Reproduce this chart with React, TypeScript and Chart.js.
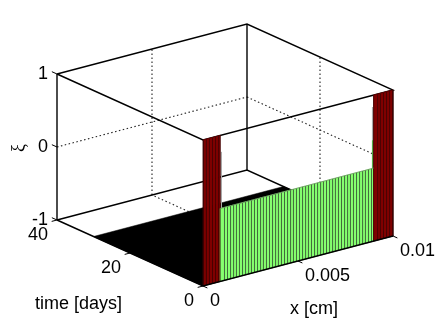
import React, { useEffect, useRef } from "react";
import { Chart, registerables } from "chart.js";

Chart.register(...registerables);

// Values
const xMesh = [
  0, 0.00003, 0.00018, 0.00034, 0.0005, 0.00066, 0.00082, 0.00091, 0.00113, 0.00129, 0.00145,
  0.00161, 0.00176, 0.00192, 0.00208, 0.00224, 0.0024, 0.00255, 0.00271, 0.00287, 0.00303,
  0.00318, 0.00334, 0.0035, 0.00366, 0.00382, 0.00397, 0.00413, 0.00429, 0.00445, 0.00461,
  0.00476, 0.00492, 0.00508, 0.00524, 0.0054, 0.00555, 0.00571, 0.00587, 0.00603, 0.00619,
  0.00634, 0.0065, 0.00666, 0.00682, 0.00697, 0.00713, 0.00729, 0.00745, 0.00761, 0.00776,
  0.00792, 0.00808, 0.00824, 0.0084, 0.00855, 0.00871, 0.00887, 0.00898, 0.00919, 0.00934,
  0.0095, 0.00966, 0.00982, 0.01,
];
const xiAtStart = [
  1, 1, 1, 1, 1, 1, 1,
  0, 0, 0, 0, 0, 0, 0, 0, 0, 0, 0, 0, 0, 0, 0, 0, 0, 0, 0, 0,
  0, 0, 0, 0, 0, 0, 0, 0, 0, 0, 0, 0, 0, 0, 0, 0, 0, 0, 0, 0,
  0, 0, 0, 0, 0, 0, 0, 0, 0, 0, 0,
  1, 1, 1, 1, 1, 1,
];
const floorX = [0, 0.01];
const floorT = [0, 30];
const floorXi = -1;
const leftStepX = 0.00097;
const rightStepX = 0.00892;
const leftStepGrey = [0.77, 0];
const rightStepGrey = [0.84, 0.38];
const rightStepGreen = [0.38, 0];

const xTicks = [0, 0.005, 0.01];
const xTickLabels = ["0", "0.005", "0.01"];
const tTicks = [0, 20, 40];
const tTickLabels = ["0", "20", "40"];
const xiTicks = [-1, 0, 1];
const xiTickLabels = ["-1", "0", "1"];
const xLabel = "x [cm]";
const tLabel = "time [days]";
const xiLabel = "ξ";

const RED = "#7f0000";
const GREEN = "#86ff70";

// 3D view of the box
const project = (x: number, t: number, xi: number) => ({
  x: 203 + (x / 0.01) * 190 - (t / 40) * 146,
  y: 286 - (x / 0.01) * 50 - (t / 40) * 66 - ((xi + 1) / 2) * 146,
});

type P = [number, number, number];
const poly = (pts: P[]) => pts.map((p) => project(p[0], p[1], p[2]));

const line = (pts: P[], color = "#000", width = 1.4, dash: number[] = []) => ({
  data: poly(pts),
  borderColor: color,
  borderWidth: width,
  borderDash: dash,
  showLine: true,
  pointRadius: 0,
  fill: false,
  tension: 0,
});

const shape = (pts: P[], fillColor: string) => ({
  data: poly([...pts, pts[0]]),
  borderColor: fillColor,
  borderWidth: 0.5,
  backgroundColor: fillColor,
  showLine: true,
  pointRadius: 0,
  fill: "shape",
  tension: 0,
});

const buildDatasets = () => {
  const back: any[] = [];
  const dot = [1.5, 2.5];
  const xMax = xTicks[2];
  const tMax = tTicks[2];
  const lo = xiTicks[0];
  const hi = xiTicks[2];

  // dotted grid on the floor and back walls
  back.push(line([[xTicks[1], tMax, lo], [xTicks[1], tMax, hi]], "#222", 1.1, dot));
  back.push(line([[xTicks[1], tTicks[0], lo], [xTicks[1], tMax, lo]], "#222", 1.1, dot));
  back.push(line([[xMax, tTicks[1], lo], [xMax, tTicks[1], hi]], "#222", 1.1, dot));
  back.push(line([[0, tTicks[1], lo], [xMax, tTicks[1], lo]], "#222", 1.1, dot));
  back.push(line([[0, tMax, xiTicks[1]], [xMax, tMax, xiTicks[1]]], "#222", 1.1, dot));
  back.push(line([[xMax, tMax, xiTicks[1]], [xMax, tTicks[0], xiTicks[1]]], "#222", 1.1, dot));

  // back box edges
  back.push(line([[0, tMax, hi], [xMax, tMax, hi], [xMax, tTicks[0], hi], [0, tTicks[0], hi], [0, tMax, hi]]));
  back.push(line([[0, tMax, lo], [xMax, tMax, lo], [xMax, tTicks[0], lo]]));
  back.push(line([[0, tMax, lo], [0, tMax, hi]]));
  back.push(line([[xMax, tMax, lo], [xMax, tMax, hi]]));

  // the floor of the surface
  back.push(
    shape(
      [
        [floorX[0], floorT[0], floorXi],
        [floorX[1], floorT[0], floorXi],
        [floorX[1], floorT[1], floorXi],
        [floorX[0], floorT[1], floorXi],
      ],
      "#000",
    ),
  );

  // step facets
  back.push(line([[leftStepX, 0, leftStepGrey[0]], [leftStepX, 0, leftStepGrey[1]]], "#a8a8a8", 1));
  back.push(line([[rightStepX, 0, rightStepGrey[0]], [rightStepX, 0, rightStepGrey[1]]], "#a8a8a8", 1));
  back.push(line([[rightStepX, 0, rightStepGreen[0]], [rightStepX, 0, rightStepGreen[1]]], "#55aa44", 1));

  // front wall of the surface, one cell per mesh interval
  for (let i = 0; i < xMesh.length - 1; i++) {
    const v = xiAtStart[i];
    back.push(
      shape(
        [
          [xMesh[i], 0, lo],
          [xMesh[i + 1], 0, lo],
          [xMesh[i + 1], 0, v],
          [xMesh[i], 0, v],
        ],
        v > 0.5 ? RED : GREEN,
      ),
    );
  }
  // mesh lines of the wall
  for (let i = 0; i < xMesh.length; i++) {
    const v = Math.max(xiAtStart[Math.min(i, xiAtStart.length - 1)], xiAtStart[Math.max(i - 1, 0)]);
    const isRed = v > 0.5;
    back.push(
      line(
        [[xMesh[i], 0, lo], [xMesh[i], 0, v]],
        isRed ? "rgba(30,0,0,0.55)" : "rgba(40,50,40,0.72)",
        1,
      ),
    );
  }
  // top rim of the wall
  for (let i = 0; i < xMesh.length - 1; i++) {
    const v = xiAtStart[i];
    back.push(line([[xMesh[i], 0, v], [xMesh[i + 1], 0, v]], v > 0.5 ? "#5a0000" : "#6d8f64", 0.8));
  }

  // front edges and ticks
  back.push(line([[0, tMax, lo], [0, tTicks[0], lo], [xMax, tTicks[0], lo]]));
  back.push(line([[xMax, tTicks[0], lo], [xMax, tTicks[0], hi]], "#200", 1));
  for (const v of xiTicks) back.push(line([[0, tMax, v], [0, tMax + 1.4, v]], "#000", 1));
  for (const v of tTicks) back.push(line([[0, v, lo], [-0.00028, v, lo]], "#000", 1));
  for (const v of xTicks) back.push(line([[v, 0, lo], [v, -1.2, lo]], "#000", 1));

  return back.reverse();
};

const textPlugin = {
  id: "axisText",
  afterDraw(chart: any) {
    const { ctx, scales } = chart;
    const put = (p: { x: number; y: number }, dx: number, dy: number, s: string, align: CanvasTextAlign) => {
      ctx.textAlign = align;
      ctx.fillText(s, scales.x.getPixelForValue(p.x) + dx, scales.y.getPixelForValue(p.y) + dy);
    };
    ctx.save();
    ctx.fillStyle = "#000";
    ctx.font = '18px "Liberation Sans"';
    ctx.textBaseline = "middle";
    xiTicks.forEach((v, i) => put(project(0, tTicks[2], v), -9, 0.5, xiTickLabels[i], "right"));
    tTicks.forEach((v, i) => put(project(0, v, xiTicks[0]), -9, 15.5, tTickLabels[i], "right"));
    xTicks.forEach((v, i) => put(project(v, 0, xiTicks[0]), 7, 15.5, xTickLabels[i], "left"));
    ctx.textBaseline = "alphabetic";
    put(project(0, 0, xiTicks[0]), -168, 23, tLabel, "left");
    put(project(0.005, 0, xiTicks[0]), -8, 53, xLabel, "left");
    const c = project(0, tTicks[2], xiTicks[1]);
    ctx.translate(scales.x.getPixelForValue(c.x) - 33, scales.y.getPixelForValue(c.y) + 1);
    ctx.rotate(-Math.PI / 2);
    ctx.font = '18px "Liberation Serif"';
    ctx.textAlign = "center";
    ctx.fillText(xiLabel, 0, 0);
    ctx.restore();
  },
};

export default function App() {
  const ref = useRef<HTMLCanvasElement>(null);
  useEffect(() => {
    if (!ref.current) return;
    const chart = new Chart(ref.current, {
      type: "scatter",
      data: { datasets: buildDatasets() },
      plugins: [textPlugin],
      options: {
        animation: false,
        responsive: false,
        layout: { padding: 0 },
        plugins: { legend: { display: false }, tooltip: { enabled: false } },
        scales: {
          x: { type: "linear", min: 0, max: 436, display: false },
          y: { type: "linear", min: 0, max: 323, reverse: true, display: false },
        },
      },
    } as any);
    return () => chart.destroy();
  }, []);
  return (
    <div style={{ position: "absolute", left: 0, top: 0, width: 436, height: 323, background: "#fff" }}>
      <canvas ref={ref} width={436} height={323} style={{ display: "block" }} />
    </div>
  );
}
